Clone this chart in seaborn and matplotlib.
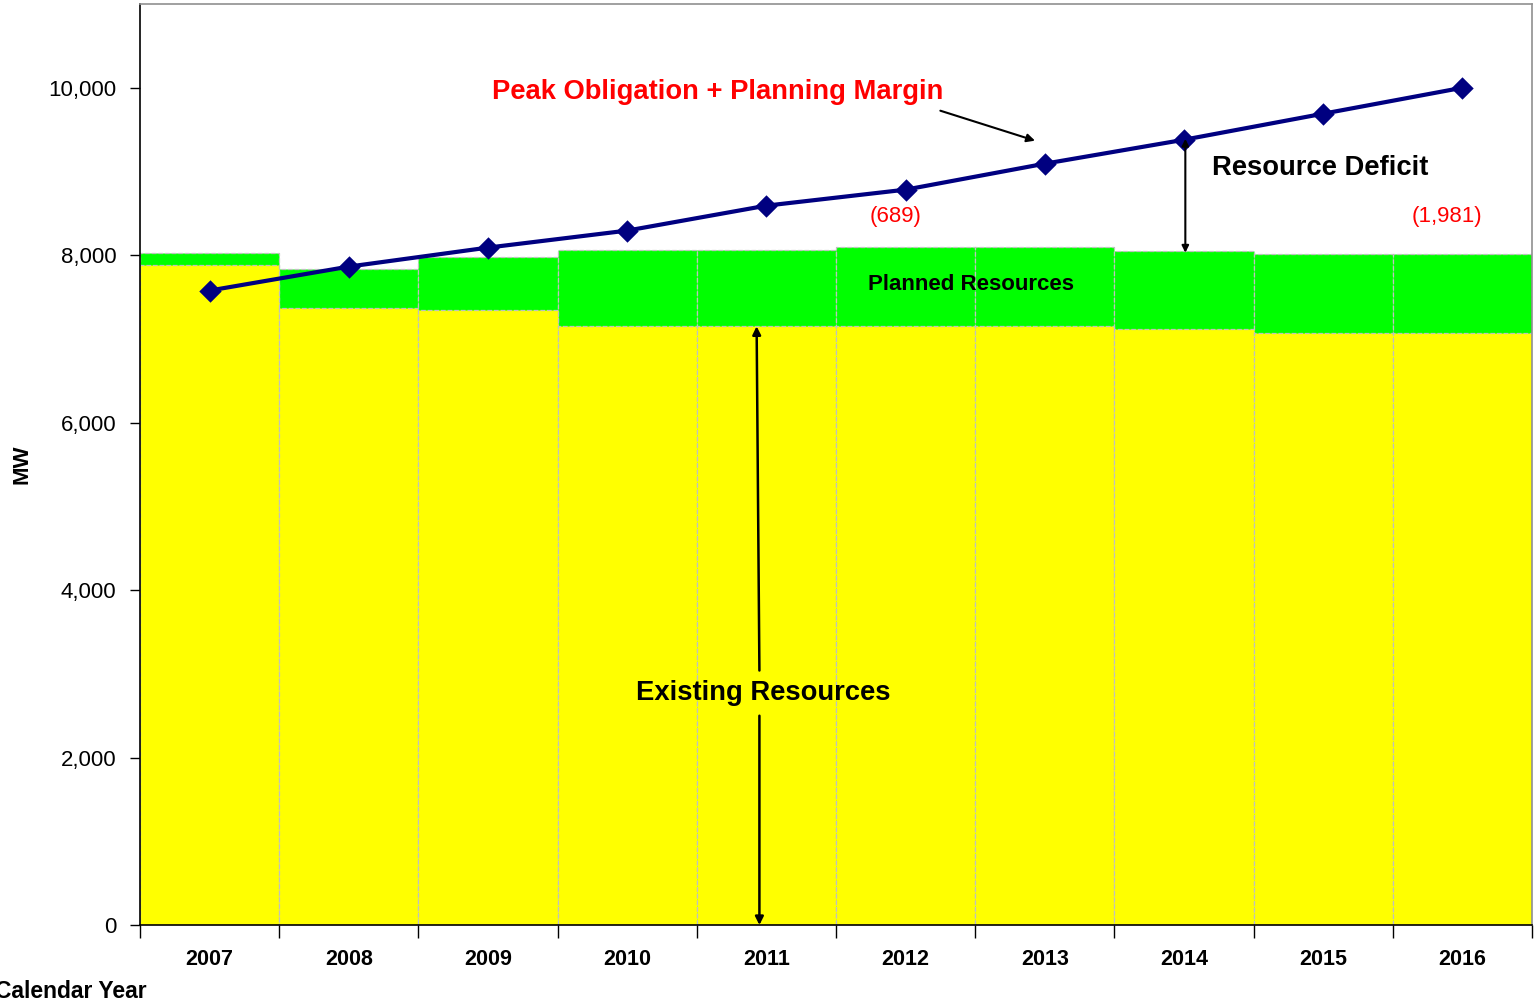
import numpy as np
import seaborn as sns
import matplotlib.pyplot as plt
from matplotlib.ticker import FuncFormatter, FixedLocator

# data (MW)
years = ['2007', '2008', '2009', '2010', '2011', '2012', '2013', '2014', '2015', '2016']
existing = [7888, 7366, 7347, 7151, 7151, 7151, 7151, 7116, 7072, 7072]
planned = [137, 474, 636, 916, 916, 943, 943, 930, 947, 947]
peak_margin = [7578, 7864, 8091, 8294, 8592, 8783, 9093, 9379, 9690, 10000]

total = [e + p for e, p in zip(existing, planned)]

sns.set_style('white')
plt.rcParams['font.family'] = ['Liberation Sans', 'DejaVu Sans']
plt.rcParams['text.color'] = 'black'
plt.rcParams['xtick.color'] = 'black'
plt.rcParams['ytick.color'] = 'black'

fig = plt.figure(figsize=(15.35, 10.08), dpi=100)
ax = fig.add_axes([0.0912, 0.0823, 0.9068, 0.9137])

# stacked bars: total (green) then existing (yellow) over it
bar_kw = dict(width=1.0, edgecolor='#c0c0c0', linestyle='--', linewidth=0.9)
sns.barplot(x=years, y=total, color='#00ff00', saturation=1, ax=ax, **bar_kw)
sns.barplot(x=years, y=existing, color='#ffff00', saturation=1, ax=ax, **bar_kw)

# peak obligation + planning margin line
sns.pointplot(x=years, y=peak_margin, color='#000080', markers='D',
              markersize=9, linewidth=3, ax=ax)

ax.set_xlim(-0.5, 9.5)
ax.set_ylim(0, 11000)
ax.set_yticks([0, 2000, 4000, 6000, 8000, 10000])
ax.yaxis.set_major_formatter(FuncFormatter(lambda v, p: f'{int(v):,}'))
ax.tick_params(axis='y', direction='out', length=7, width=1, color='black',
               labelsize=16, pad=10, left=True)
ax.tick_params(axis='x', which='major', length=0, labelsize=15.5, pad=17.5)
ax.xaxis.set_minor_locator(FixedLocator(np.arange(-0.5, 10, 1)))
ax.tick_params(axis='x', which='minor', direction='out', length=9, width=1,
               color='black', bottom=True)
for lab in ax.get_xticklabels():
    lab.set_fontweight('bold')
ax.set_xlabel('')
ax.set_ylabel('')

for side in ['left', 'bottom']:
    ax.spines[side].set_color('black')
    ax.spines[side].set_linewidth(1.2)
for side in ['top', 'right']:
    ax.spines[side].set_color('#909090')
    ax.spines[side].set_linewidth(1.2)

fig.text(22 / 1535, 1 - 464 / 1008, 'MW', rotation=90, fontsize=16,
         fontweight='bold', ha='center', va='center')
fig.text(-5 / 1535, 1 - 992 / 1008, 'Calendar Year', fontsize=16.5,
         fontweight='bold', ha='left', va='center')

# annotations
ax.text(3.65, 9950, 'Peak Obligation + Planning Margin', color='red',
        fontsize=19.7, fontweight='bold', ha='center', va='center')
ax.annotate('', xy=(5.93, 9368), xytext=(5.25, 9726),
            arrowprops=dict(arrowstyle='-|>', color='black', lw=1.5,
                            mutation_scale=12, shrinkA=0, shrinkB=0))
ax.text(7.20, 9040, 'Resource Deficit', fontsize=19.7, fontweight='bold',
        ha='left', va='center')
ax.annotate('', xy=(7.01, 9390), xytext=(7.01, 8030),
            arrowprops=dict(arrowstyle='<|-|>', color='black', lw=1.5,
                            mutation_scale=10, shrinkA=0, shrinkB=0))
ax.text(4.93, 8460, '(689)', color='red', fontsize=16, ha='center', va='center')
ax.text(8.89, 8460, '(1,981)', color='red', fontsize=16, ha='center', va='center')
ax.text(5.47, 7650, 'Planned Resources', fontsize=16, fontweight='bold',
        ha='center', va='center')
ax.text(3.98, 2770, 'Existing Resources', fontsize=19.7, fontweight='bold',
        ha='center', va='center')
ax.annotate('', xy=(3.93, 7151), xytext=(3.95, 3040),
            arrowprops=dict(arrowstyle='-|>', color='black', lw=1.8,
                            mutation_scale=12, shrinkA=0, shrinkB=0))
ax.annotate('', xy=(3.95, 0), xytext=(3.95, 2500),
            arrowprops=dict(arrowstyle='-|>', color='black', lw=1.8,
                            mutation_scale=12, shrinkA=0, shrinkB=0))

fig.savefig('out.png', dpi=100)
